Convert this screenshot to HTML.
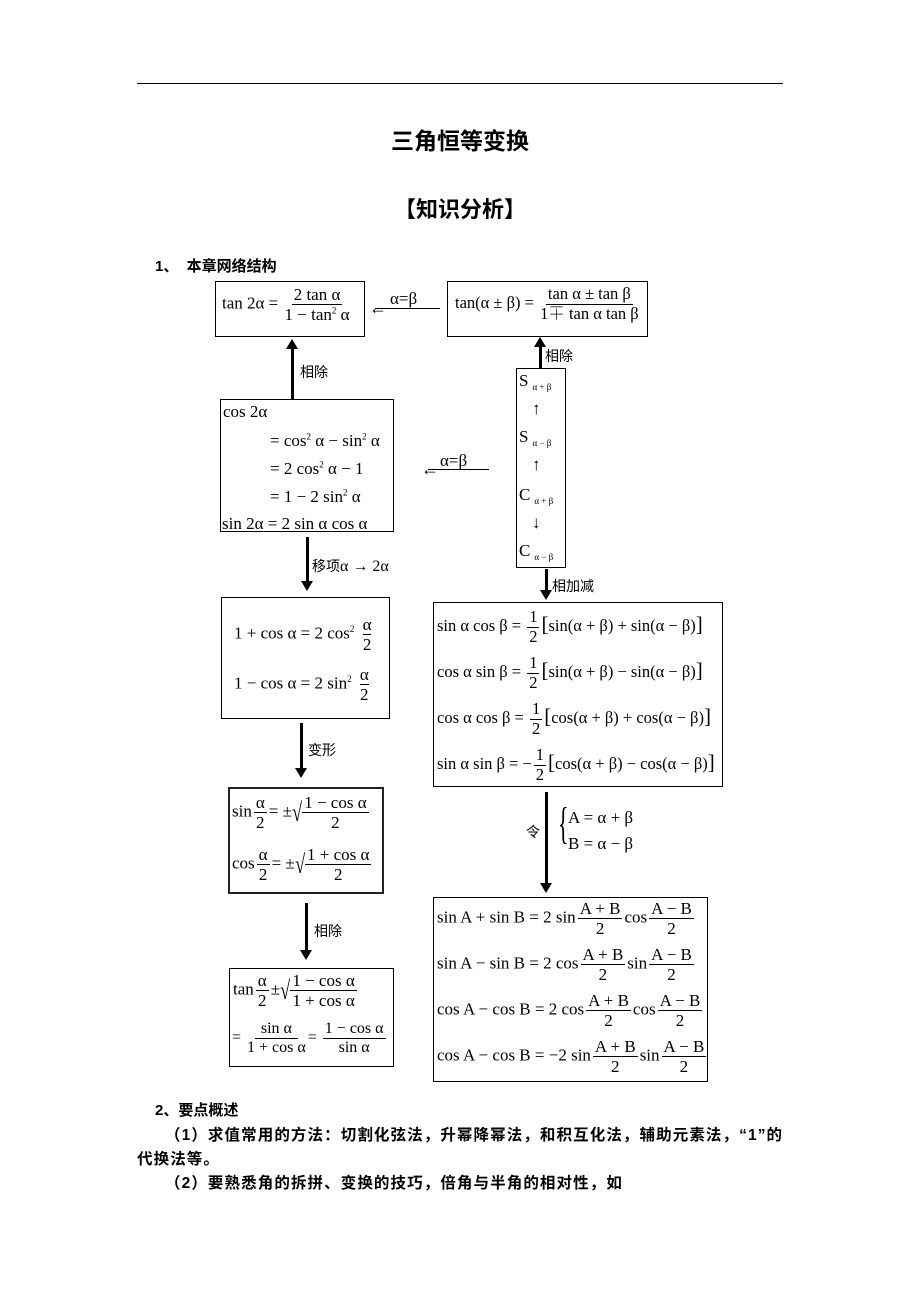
<!DOCTYPE html>
<html><head><meta charset="utf-8"><style>
body{margin:0;width:920px;height:1302px;background:#fff;position:relative;font-family:"Liberation Serif","Noto Serif CJK SC",serif;color:#000;overflow:hidden}
.a{position:absolute;white-space:nowrap}
.box{position:absolute;border:1.5px solid #000;box-sizing:border-box}
.m{font-size:17px;line-height:1}
.f{display:inline-flex;flex-direction:column;align-items:center;vertical-align:middle;margin:0 2px}
.f>span:first-child{border-bottom:1px solid #000;padding:0 2px 1px}
.f>span:last-child{padding-top:1px}
.cn{font-family:"Liberation Sans","Noto Sans CJK SC",sans-serif;font-size:14px}
.b{font-family:"Liberation Sans","Noto Sans CJK SC",sans-serif;font-weight:bold}
.vl{position:absolute;background:#000}
sup{font-size:9px}
.sub{font-size:9px;vertical-align:-4px;margin-left:4px}
.rt{font-size:26px;vertical-align:middle;display:inline-block;transform:scaleX(0.7);margin:0 -2px}
.la{position:absolute;font-size:18px;line-height:1}
</style></head><body>
<div class="vl" style="left:137px;top:83px;width:646px;height:1px"></div>
<div class="a b" style="left:0;width:920px;text-align:center;top:122px;font-size:23px">三角恒等变换</div>
<div class="a b" style="left:0;width:920px;text-align:center;top:192px;font-size:22px">【知识分析】</div>
<div class="a b" style="left:155px;top:255px;font-size:15px">1、&nbsp;&nbsp;本章网络结构</div>

<div class="box" style="left:215px;top:281px;width:150px;height:56px"></div>
<div class="a m" style="left:222px;top:286px">tan 2α = <span class="f"><span>2 tan α</span><span>1 − tan<sup>2</sup> α</span></span></div>
<div class="vl" style="left:375px;top:308px;width:65px;height:1px"></div>
<div class="la" style="left:369px;top:299px">←</div>
<div class="a m" style="left:390px;top:290px">α=β</div>
<div class="box" style="left:447px;top:281px;width:201px;height:56px"></div>
<div class="a m" style="left:455px;top:286px;font-size:16.5px">tan(α ± β) = <span class="f"><span>tan α ± tan β</span><span>1∓ tan α tan β</span></span></div>
<div class="vl" style="left:539px;top:344px;width:3px;height:24px"></div>
<div class="a" style="left:534px;top:337px;width:0;height:0;border-left:6px solid transparent;border-right:6px solid transparent;border-bottom:10px solid #000"></div>
<div class="a cn" style="left:545px;top:346px">相除</div>
<div class="box" style="left:516px;top:368px;width:50px;height:200px"></div>
<div class="a m" style="left:519px;top:372px">S<span class="sub">α + β</span></div>
<div class="a m" style="left:532px;top:400px">↑</div>
<div class="a m" style="left:519px;top:428px">S<span class="sub">α − β</span></div>
<div class="a m" style="left:532px;top:456px">↑</div>
<div class="a m" style="left:519px;top:486px">C<span class="sub">α + β</span></div>
<div class="a m" style="left:532px;top:514px">↓</div>
<div class="a m" style="left:519px;top:542px">C<span class="sub">α − β</span></div>
<div class="vl" style="left:291px;top:348px;width:3px;height:51px"></div>
<div class="a" style="left:286px;top:339px;width:0;height:0;border-left:6px solid transparent;border-right:6px solid transparent;border-bottom:10px solid #000"></div>
<div class="a cn" style="left:300px;top:362px">相除</div>
<div class="box" style="left:220px;top:399px;width:174px;height:133px"></div>
<div class="a m" style="left:223px;top:403px">cos 2α</div>
<div class="a m" style="left:270px;top:432px">= cos<sup>2</sup> α − sin<sup>2</sup> α</div>
<div class="a m" style="left:270px;top:460px">= 2 cos<sup>2</sup> α − 1</div>
<div class="a m" style="left:270px;top:488px">= 1 − 2 sin<sup>2</sup> α</div>
<div class="a m" style="left:222px;top:515px">sin 2α = 2 sin α cos α</div>
<div class="vl" style="left:428px;top:469px;width:61px;height:1px"></div>
<div class="la" style="left:421px;top:460px">←</div>
<div class="a m" style="left:440px;top:452px">α=β</div>
<div class="vl" style="left:306px;top:537px;width:3px;height:46px"></div>
<div class="a" style="left:301px;top:581px;border-left:6px solid transparent;border-right:6px solid transparent;border-top:10px solid #000"></div>
<div class="a cn" style="left:312px;top:556px">移项<span style="font-family:'Liberation Serif',serif;font-size:16px">α → 2α</span></div>
<div class="box" style="left:221px;top:597px;width:169px;height:122px"></div>
<div class="a m" style="left:234px;top:616px">1 + cos α = 2 cos<sup>2</sup> <span class="f"><span style="border:none">α</span><span style="border-top:1px solid #000">2</span></span></div>
<div class="a m" style="left:234px;top:666px">1 − cos α = 2 sin<sup>2</sup> <span class="f"><span style="border:none">α</span><span style="border-top:1px solid #000">2</span></span></div>
<div class="vl" style="left:545px;top:569px;width:3px;height:22px"></div>
<div class="a" style="left:540px;top:590px;border-left:6px solid transparent;border-right:6px solid transparent;border-top:10px solid #000"></div>
<div class="a cn" style="left:552px;top:576px">相加减</div>
<div class="box" style="left:433px;top:602px;width:290px;height:185px"></div>
<div class="a m" style="left:437px;top:609px;font-size:16.5px">sin α cos β = <span class="f"><span>1</span><span>2</span></span><span style="font-size:21px">[</span>sin(α + β) + sin(α − β)<span style="font-size:21px">]</span></div>
<div class="a m" style="left:437px;top:655px;font-size:16.5px">cos α sin β = <span class="f"><span>1</span><span>2</span></span><span style="font-size:21px">[</span>sin(α + β) − sin(α − β)<span style="font-size:21px">]</span></div>
<div class="a m" style="left:437px;top:701px;font-size:16.5px">cos α cos β = <span class="f"><span>1</span><span>2</span></span><span style="font-size:21px">[</span>cos(α + β) + cos(α − β)<span style="font-size:21px">]</span></div>
<div class="a m" style="left:437px;top:747px;font-size:16.5px">sin α sin β = −<span class="f"><span>1</span><span>2</span></span><span style="font-size:21px">[</span>cos(α + β) − cos(α − β)<span style="font-size:21px">]</span></div>
<div class="vl" style="left:300px;top:723px;width:3px;height:46px"></div>
<div class="a" style="left:295px;top:768px;border-left:6px solid transparent;border-right:6px solid transparent;border-top:10px solid #000"></div>
<div class="a cn" style="left:308px;top:740px">变形</div>
<div class="box" style="left:228px;top:787px;width:156px;height:107px;border:2px solid #222"></div>
<div class="a m" style="left:232px;top:794px">sin<span class="f"><span>α</span><span>2</span></span>= ±<span class="rt">√</span><span class="f" style="margin:0"><span>1 − cos α</span><span>2</span></span></div>
<div class="a m" style="left:232px;top:846px">cos<span class="f"><span>α</span><span>2</span></span>= ±<span class="rt">√</span><span class="f" style="margin:0"><span>1 + cos α</span><span>2</span></span></div>
<div class="vl" style="left:305px;top:903px;width:3px;height:48px"></div>
<div class="a" style="left:300px;top:950px;border-left:6px solid transparent;border-right:6px solid transparent;border-top:10px solid #000"></div>
<div class="a cn" style="left:314px;top:921px">相除</div>
<div class="box" style="left:229px;top:968px;width:165px;height:99px"></div>
<div class="a m" style="left:233px;top:972px">tan<span class="f"><span>α</span><span>2</span></span>±<span class="rt">√</span><span class="f" style="margin:0"><span>1 − cos α</span><span>1 + cos α</span></span></div>
<div class="a m" style="left:232px;top:1021px;font-size:16px">= <span class="f"><span>&nbsp;sin α&nbsp;</span><span>1 + cos α</span></span>= <span class="f"><span>1 − cos α</span><span>sin α</span></span></div>
<div class="vl" style="left:545px;top:792px;width:3px;height:92px"></div>
<div class="a" style="left:540px;top:883px;border-left:6px solid transparent;border-right:6px solid transparent;border-top:10px solid #000"></div>
<div class="a cn" style="left:526px;top:822px">令</div>
<div class="a" style="left:558px;top:802px;font-size:44px;line-height:1;font-family:'Liberation Serif',serif;transform:scaleX(0.5);transform-origin:left">{</div>
<div class="a m" style="left:568px;top:809px">A = α + β</div>
<div class="a m" style="left:568px;top:835px">B = α − β</div>
<div class="box" style="left:433px;top:897px;width:275px;height:185px"></div>
<div class="a m" style="left:437px;top:900px">sin A + sin B = 2 sin<span class="f"><span>A + B</span><span>2</span></span>cos<span class="f"><span>A − B</span><span>2</span></span></div>
<div class="a m" style="left:437px;top:946px">sin A − sin B = 2 cos<span class="f"><span>A + B</span><span>2</span></span>sin<span class="f"><span>A − B</span><span>2</span></span></div>
<div class="a m" style="left:437px;top:992px">cos A − cos B = 2 cos<span class="f"><span>A + B</span><span>2</span></span>cos<span class="f"><span>A − B</span><span>2</span></span></div>
<div class="a m" style="left:437px;top:1038px">cos A − cos B = −2 sin<span class="f"><span>A + B</span><span>2</span></span>sin<span class="f"><span>A − B</span><span>2</span></span></div>

<div class="a b" style="left:155px;top:1099px;font-size:15px">2、要点概述</div>
<div class="a b" style="left:165px;top:1123px;font-size:15.5px;letter-spacing:1.1px">（1）求值常用的方法：切割化弦法，升幂降幂法，和积互化法，辅助元素法，“1”的</div>
<div class="a b" style="left:137px;top:1147px;font-size:15.5px;letter-spacing:1.1px">代换法等。</div>
<div class="a b" style="left:165px;top:1171px;font-size:15.5px;letter-spacing:1.1px">（2）要熟悉角的拆拼、变换的技巧，倍角与半角的相对性，如</div>
</body></html>
